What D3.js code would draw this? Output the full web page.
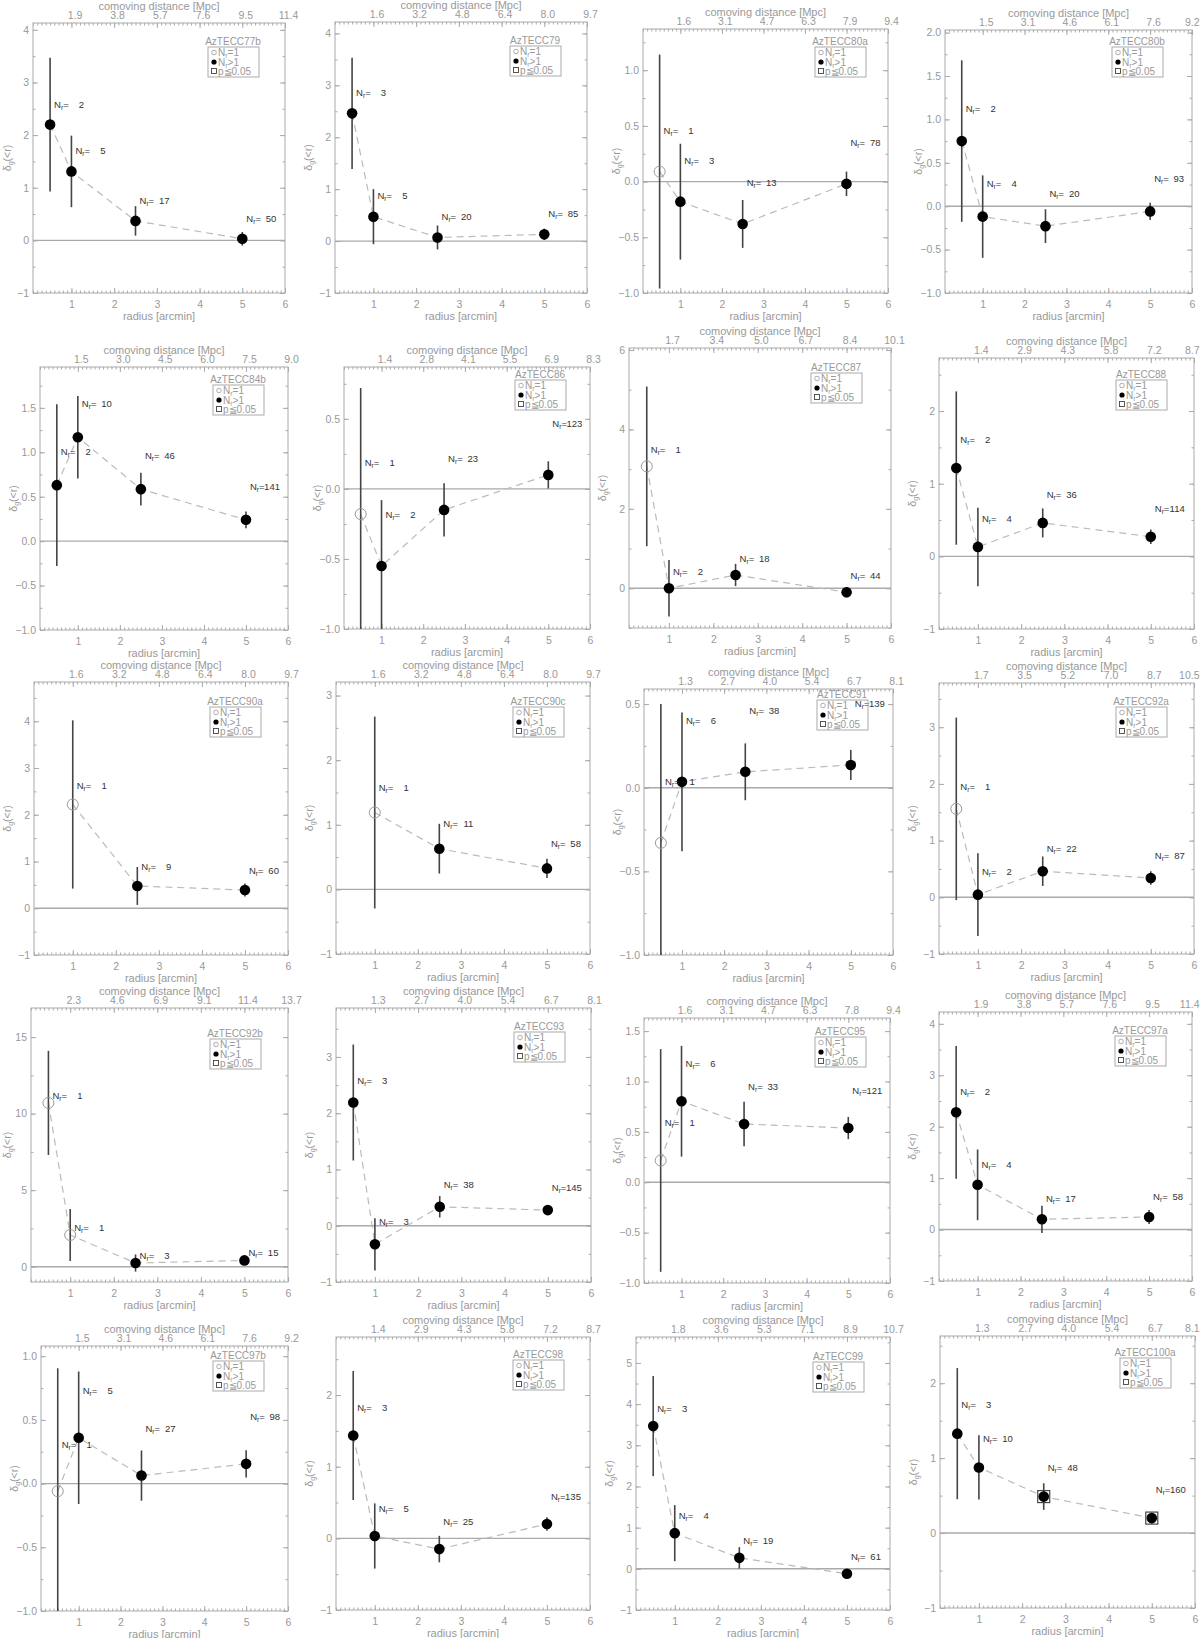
<!DOCTYPE html>
<html>
<head>
<meta charset="utf-8">
<script src="https://cdn.jsdelivr.net/npm/d3@7"></script>
<style>
  body { margin: 0; background: #fff; }
  text { font-family: 'Liberation Sans', Arial, sans-serif; }
</style>
</head>
<body>
<svg id="chart" width="1200" height="1638"></svg>
<script>
// radii of the circles [arcmin]
const radii = [0.5, 1, 2.5, 5]
const radiusTicks = [1, 2, 3, 4, 5, 6]

const fieldNames = ['AzTECC77b', 'AzTECC79', 'AzTECC80a', 'AzTECC80b',
  'AzTECC84b', 'AzTECC86', 'AzTECC87', 'AzTECC88',
  'AzTECC90a', 'AzTECC90c', 'AzTECC91', 'AzTECC92a',
  'AzTECC92b', 'AzTECC93', 'AzTECC95', 'AzTECC97a',
  'AzTECC97b', 'AzTECC98', 'AzTECC99', 'AzTECC100a']

// overdensity delta_g(<r), null = no point
const delta = [
  [2.20, 1.31, 0.37, 0.03],
  [2.46, 0.47, 0.07, 0.13],
  [0.09, -0.18, -0.38, -0.02],
  [0.75, -0.12, -0.23, -0.06],
  [0.63, 1.17, 0.585, 0.24],
  [-0.18, -0.55, -0.15, 0.10],
  [3.07, 0.0, 0.335, -0.10],
  [1.215, 0.13, 0.46, 0.27],
  [null, 2.22, 0.477, 0.39],
  [null, 1.19, 0.63, 0.325],
  [-0.33, 0.035, 0.095, 0.136],
  [1.56, 0.047, 0.46, 0.34],
  [10.7, 2.07, 0.24, 0.41],
  [2.19, -0.33, 0.337, 0.278],
  [0.216, 0.804, 0.578, 0.538],
  [2.28, 0.87, 0.20, 0.245],
  [-0.06, 0.36, 0.063, 0.155],
  [1.435, 0.033, -0.15, 0.20],
  [3.466, 0.866, 0.267, -0.12],
  [1.327, 0.876, 0.487, 0.20]
]

const deltaErr = [
  [1.27, 0.68, 0.28, 0.13],
  [1.07, 0.53, 0.23, 0.11],
  [1.05, 0.52, 0.215, 0.11],
  [0.93, 0.475, 0.195, 0.10],
  [0.91, 0.465, 0.185, 0.095],
  [0.90, 0.47, 0.19, 0.097],
  [2.01, 0.71, 0.28, 0.13],
  [1.055, 0.54, 0.20, 0.10],
  [null, 1.8, 0.405, 0.14],
  [null, 1.485, 0.385, 0.15],
  [0.83, 0.415, 0.17, 0.09],
  [1.61, 0.73, 0.26, 0.12],
  [3.4, 1.7, 0.56, 0.28],
  [1.03, 0.465, 0.19, 0.078],
  [1.105, 0.55, 0.22, 0.11],
  [1.29, 0.687, 0.265, 0.135],
  [0.965, 0.52, 0.197, 0.107],
  [0.90, 0.455, 0.185, 0.093],
  [1.215, 0.68, 0.26, 0.05],
  [0.875, 0.428, 0.177, 0.07]
]

// number of galaxies N_r inside each radius
const counts = [
  [2, 5, 17, 50], [3, 5, 20, 85], [1, 3, 13, 78], [2, 4, 20, 93],
  [2, 10, 46, 141], [1, 2, 23, 123], [1, 2, 18, 44], [2, 4, 36, 114],
  [null, 1, 9, 60], [null, 1, 11, 58], [1, 6, 38, 139], [1, 2, 22, 87],
  [1, 1, 3, 15], [3, 3, 38, 145], [1, 6, 33, 121], [2, 4, 17, 58],
  [1, 5, 27, 98], [3, 5, 25, 135], [3, 4, 19, 61], [3, 10, 48, 160]
]

// p <= 0.05 points (only AzTECC100a has any)
const significant = fieldNames.map((n, i) => i === 19 ? [0, 0, 1, 1] : [0, 0, 0, 0])

// top axis: comoving distance [Mpc] at radius 1..6 arcmin
const comovingTicks = [
  ['1.9', '3.8', '5.7', '7.6', '9.5', '11.4'],
  ['1.6', '3.2', '4.8', '6.4', '8.0', '9.7'],
  ['1.6', '3.1', '4.7', '6.3', '7.9', '9.4'],
  ['1.5', '3.1', '4.6', '6.1', '7.6', '9.2'],
  ['1.5', '3.0', '4.5', '6.0', '7.5', '9.0'],
  ['1.4', '2.8', '4.1', '5.5', '6.9', '8.3'],
  ['1.7', '3.4', '5.0', '6.7', '8.4', '10.1'],
  ['1.4', '2.9', '4.3', '5.8', '7.2', '8.7'],
  ['1.6', '3.2', '4.8', '6.4', '8.0', '9.7'],
  ['1.6', '3.2', '4.8', '6.4', '8.0', '9.7'],
  ['1.3', '2.7', '4.0', '5.4', '6.7', '8.1'],
  ['1.7', '3.5', '5.2', '7.0', '8.7', '10.5'],
  ['2.3', '4.6', '6.9', '9.1', '11.4', '13.7'],
  ['1.3', '2.7', '4.0', '5.4', '6.7', '8.1'],
  ['1.6', '3.1', '4.7', '6.3', '7.8', '9.4'],
  ['1.9', '3.8', '5.7', '7.6', '9.5', '11.4'],
  ['1.5', '3.1', '4.6', '6.1', '7.6', '9.2'],
  ['1.4', '2.9', '4.3', '5.8', '7.2', '8.7'],
  ['1.8', '3.6', '5.3', '7.1', '8.9', '10.7'],
  ['1.3', '2.7', '4.0', '5.4', '6.7', '8.1']
]

// layout of each panel: plot box [left, top, right, bottom], y max, y tick step,
// legend box [left, top], label offset (data units)
const layout = [
  { box: [33, 23, 285, 293], ymax: 4.13, step: 1, leg: [208, 47], off: 0.39 },
  { box: [335, 22, 587, 293], ymax: 4.22, step: 1, leg: [510, 46], off: 0.40 },
  { box: [643, 29, 888, 293], ymax: 1.37, step: 0.5, leg: [815, 47], off: 0.37 },
  { box: [945, 30, 1192, 293], ymax: 2.03, step: 0.5, leg: [1112, 47], off: 0.38 },
  { box: [40, 367, 288, 630], ymax: 1.96, step: 0.5, leg: [213, 385], off: 0.38 },
  { box: [344, 367, 590, 629], ymax: 0.87, step: 0.5, leg: [515, 380], off: 0.37 },
  { box: [629, 348, 891, 628], ymax: 6.05, step: 2, leg: [811, 373], off: 0.42 },
  { box: [939, 358, 1194, 629], ymax: 2.73, step: 1, leg: [1116, 380], off: 0.39 },
  { box: [34, 682, 288, 955], ymax: 4.84, step: 1, leg: [210, 707], off: 0.41 },
  { box: [336, 682, 590, 954], ymax: 3.21, step: 1, leg: [513, 707], off: 0.39 },
  { box: [644, 689, 893, 955], ymax: 0.59, step: 0.5, leg: [817, 700], off: 0.365 },
  { box: [939, 683, 1194, 954], ymax: 3.78, step: 1, leg: [1116, 707], off: 0.40 },
  { box: [31, 1008, 288, 1282], ymax: 16.9, step: 5, leg: [210, 1039], off: 0.5 },
  { box: [336, 1008, 591, 1282], ymax: 3.87, step: 1, leg: [514, 1032], off: 0.40 },
  { box: [644, 1018, 890, 1283], ymax: 1.63, step: 0.5, leg: [815, 1037], off: 0.375 },
  { box: [939, 1012, 1192, 1281], ymax: 4.23, step: 1, leg: [1115, 1036], off: 0.40 },
  { box: [41, 1346, 288, 1611], ymax: 1.08, step: 0.5, leg: [213, 1361], off: 0.37 },
  { box: [336, 1337, 590, 1610], ymax: 2.81, step: 1, leg: [513, 1360], off: 0.39 },
  { box: [636, 1337, 890, 1610], ymax: 5.63, step: 1, leg: [813, 1362], off: 0.42 },
  { box: [940, 1336, 1195, 1608], ymax: 2.63, step: 1, leg: [1120, 1358], off: 0.385 }
]

const lineGray = '#aaa'
const textGray = '#999'
const font = "'Liberation Sans', Arial, sans-serif"

const svg = d3.select('#chart')
svg.append('rect').attr('width', 1200).attr('height', 1638).attr('fill', '#fff')

function addAxis(g, axis, tx, ty) {
  let a = g.append('g')
    .attr('transform', 'translate(' + tx + ',' + ty + ')')
    .call(axis)
    .attr('font-family', font)
    .attr('font-size', 10.5)
  a.select('.domain').remove()
  a.selectAll('line').attr('stroke', lineGray)
  a.selectAll('text').attr('fill', textGray)
  return a
}

// "N_r=" prefix, IDL style
function nLabel(g, x0, y0, size, color) {
  let t = g.append('text').attr('x', x0).attr('y', y0)
    .attr('font-size', size).attr('fill', color)
  t.append('tspan').text('N')
  t.append('tspan').attr('font-size', size * 0.7).attr('dy', 2).text('r')
  t.append('tspan').attr('dy', -2).text('=')
  return t
}

const xMinor = d3.range(1, 61).map(i => i / 10)

fieldNames.forEach(function (name, p) {
  let [L, T, R, B] = layout[p].box
  let ymax = layout[p].ymax, step = layout[p].step, off = layout[p].off
  let x = d3.scaleLinear().domain([0.1, 6]).range([L, R])
  let y = d3.scaleLinear().domain([-1, ymax]).range([B, T])
  let g = svg.append('g').attr('class', 'panel')

  let fmt = step < 1 ? d3.format('.1f') : d3.format('d')
  let major = d3.range(Math.ceil(-1 / step), Math.floor(ymax / step + 1e-6) + 1).map(k => k * step)
  let half = step / 2
  let minor = d3.range(Math.ceil(-1 / half), Math.floor(ymax / half + 1e-6) + 1).map(k => k * half)

  // frame
  g.append('rect').attr('x', L).attr('y', T).attr('width', R - L).attr('height', B - T)
    .attr('fill', 'none').attr('stroke', lineGray).attr('stroke-width', 1)

  addAxis(g, d3.axisBottom(x).tickValues(radiusTicks).tickSize(-5).tickPadding(8)
    .tickFormat(d3.format('d')), 0, B)
  addAxis(g, d3.axisBottom(x).tickValues(xMinor).tickSize(-2.5).tickFormat(''), 0, B)
  let top = addAxis(g, d3.axisTop(x).tickValues(radiusTicks).tickSize(-5).tickPadding(4)
    .tickFormat((d, i) => comovingTicks[p][i]), 0, T)
  // keep the last labels inside the page
  top.selectAll('text').each(function (d) {
    let w = this.getComputedTextLength()
    let right = x(d) + 3 + w / 2
    d3.select(this).attr('dx', right > 1199 ? 3 - (right - 1199) : 3)
  })
  addAxis(g, d3.axisTop(x).tickValues(xMinor).tickSize(-2.5).tickFormat(''), 0, T)
  addAxis(g, d3.axisLeft(y).tickValues(major).tickSize(-5).tickPadding(4).tickFormat(fmt), L, 0)
  addAxis(g, d3.axisLeft(y).tickValues(minor).tickSize(-2.5).tickFormat(''), L, 0)
  addAxis(g, d3.axisRight(y).tickValues(major).tickSize(-5).tickFormat(''), R, 0)
  addAxis(g, d3.axisRight(y).tickValues(minor).tickSize(-2.5).tickFormat(''), R, 0)

  // axis titles
  g.append('text').attr('x', (L + R) / 2).attr('y', B + 27)
    .attr('text-anchor', 'middle').attr('font-size', 11).attr('fill', textGray)
    .text('radius [arcmin]')
  g.append('text').attr('x', (L + R) / 2).attr('y', T - 13.5)
    .attr('text-anchor', 'middle').attr('font-size', 11).attr('fill', textGray)
    .text('comoving distance [Mpc]')
  let yt = g.append('text')
    .attr('transform', 'translate(' + Math.max(L - 23, 10.5) + ',' + ((T + B) / 2) + ')rotate(-90)')
    .attr('text-anchor', 'middle').attr('font-size', 10.5).attr('fill', textGray)
  yt.append('tspan').text('δ')
  yt.append('tspan').attr('font-size', 7).attr('dy', 2).text('g')
  yt.append('tspan').attr('dy', -2).text('(<r)')

  // zero line
  g.append('line').attr('x1', L).attr('x2', R).attr('y1', y(0)).attr('y2', y(0))
    .attr('stroke', lineGray).attr('stroke-width', 1.4)

  let pts = radii.map((r, i) => ({
    r: r, v: delta[p][i], e: deltaErr[p][i], n: counts[p][i], s: significant[p][i]
  })).filter(d => d.v !== null)

  let clampY = v => y(Math.max(-1, Math.min(ymax, v)))

  g.append('path')
    .attr('d', d3.line().x(d => x(d.r)).y(d => y(d.v))(pts))
    .attr('fill', 'none').attr('stroke', '#bbb').attr('stroke-width', 1.2)
    .attr('stroke-dasharray', '7,5')

  g.selectAll('.err').data(pts).enter().append('line')
    .attr('x1', d => x(d.r)).attr('x2', d => x(d.r))
    .attr('y1', d => clampY(d.v + d.e)).attr('y2', d => clampY(d.v - d.e))
    .attr('stroke', '#444').attr('stroke-width', 1.6)

  g.selectAll('.sig').data(pts.filter(d => d.s)).enter().append('rect')
    .attr('x', d => x(d.r) - 6).attr('y', d => y(d.v) - 6)
    .attr('width', 12).attr('height', 12)
    .attr('fill', 'none').attr('stroke', '#444').attr('stroke-width', 1.2)

  g.selectAll('.pt').data(pts).enter().append('circle')
    .attr('cx', d => x(d.r)).attr('cy', d => y(d.v))
    .attr('r', d => d.n > 1 ? 5.3 : 5.5)
    .attr('fill', d => d.n > 1 ? '#000' : 'none')
    .attr('stroke', d => d.n > 1 ? 'none' : '#999')
    .attr('stroke-width', 1)

  pts.forEach(function (d) {
    let lx = x(d.r) + 4, ly = y(d.v + off) + 3.5
    nLabel(g, lx, ly, 9.5, '#333')
    g.append('text').attr('x', lx + 30).attr('y', ly)
      .attr('text-anchor', 'end').attr('font-size', 9.5).attr('fill', '#333')
      .text(d.n)
  })

  // legend
  let [gx, gy] = layout[p].leg
  g.append('text').attr('x', gx + 25).attr('y', gy - 2)
    .attr('text-anchor', 'middle').attr('font-size', 10).attr('fill', textGray)
    .text(name)
  g.append('rect').attr('x', gx).attr('y', gy).attr('width', 51).attr('height', 30)
    .attr('fill', 'none').attr('stroke', lineGray).attr('stroke-width', 1)
  g.append('circle').attr('cx', gx + 6).attr('cy', gy + 5.5).attr('r', 2.3)
    .attr('fill', 'none').attr('stroke', textGray).attr('stroke-width', 0.8)
  g.append('circle').attr('cx', gx + 6).attr('cy', gy + 15).attr('r', 2.6).attr('fill', '#000')
  g.append('rect').attr('x', gx + 3.5).attr('y', gy + 21.5).attr('width', 5).attr('height', 5)
    .attr('fill', 'none').attr('stroke', '#444').attr('stroke-width', 0.9)
  let e1 = nLabel(g, gx + 10, gy + 9, 10, textGray)
  e1.append('tspan').text('1')
  let e2 = nLabel(g, gx + 10, gy + 18.5, 10, textGray)
  e2.select('tspan:nth-child(3)').text('>')
  e2.append('tspan').text('1')
  g.append('text').attr('x', gx + 10).attr('y', gy + 28)
    .attr('font-size', 10).attr('fill', textGray).text('p≦0.05')
})
</script>
</body>
</html>
